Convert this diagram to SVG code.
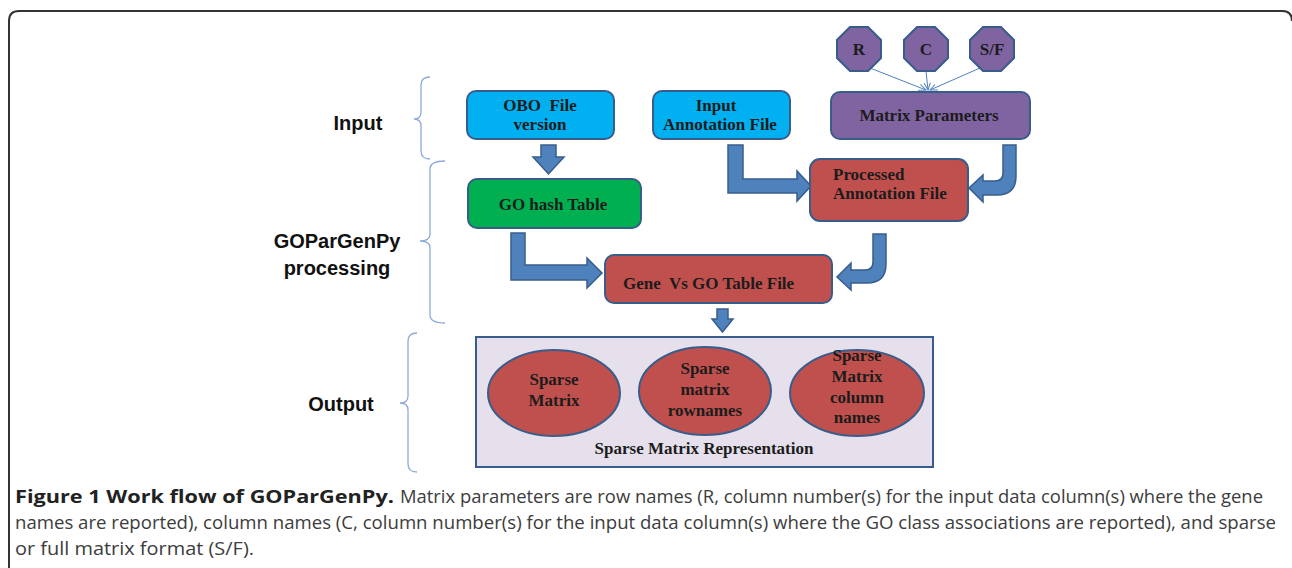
<svg xmlns="http://www.w3.org/2000/svg" width="1292" height="568" viewBox="0 0 1292 568">
<style>
.lbl{font-family:"Liberation Sans",Arial,sans-serif;font-weight:bold;font-size:20px;fill:#111}
.nt{font-family:"Liberation Serif","Times New Roman",serif;font-weight:bold;font-size:17px;fill:#1c1c1c}
.box{stroke:#385D8A;stroke-width:2}
.blue{fill:#00B0F0}
.green{fill:#00B050}
.purple{fill:#8064A2}
.red{fill:#C0504D}
.arr{fill:#4F81BD;stroke:#385D8A;stroke-width:1.5;stroke-linejoin:miter}
.brace{fill:none;stroke:#8EAADB;stroke-width:1.3}
.thin{stroke:#4F81BD;stroke-width:1;fill:none}
.cap{font-family:"Open Sans","Liberation Sans",sans-serif;font-size:18px}
</style>
<defs>
<marker id="ah" viewBox="0 0 10 10" refX="9" refY="5" markerWidth="8" markerHeight="8" orient="auto" markerUnits="userSpaceOnUse">
<path d="M0,1 L9,5 L0,9" fill="none" stroke="#4F81BD" stroke-width="1.2"/>
</marker>
</defs>
<rect width="1292" height="568" fill="#fff"/>
<path d="M9,568 V21 Q9,11 19,11 H1282 Q1292,11 1292,21" fill="none" stroke="#333" stroke-width="2"/>

<g id="braces">
<path class="brace" d="M430,77 Q421,77 421,85 V112 Q421,119 414,119 Q421,119 421,126 V151 Q421,159 430,159"/>
<path class="brace" d="M445,161 Q430,161 430,169 V234 Q430,241 420,241 Q430,241 430,248 V315 Q430,323 445,323"/>
<path class="brace" d="M417,333 Q408,333 408,341 V396 Q408,403 400,403 Q408,403 408,410 V464 Q408,472 417,472"/>
</g>

<g id="stage-labels">
<text class="lbl" x="358" y="130" text-anchor="middle">Input</text>
<text class="lbl" x="337" y="248" text-anchor="middle">GOParGenPy</text>
<text class="lbl" x="337" y="275" text-anchor="middle">processing</text>
<text class="lbl" x="341" y="411" text-anchor="middle">Output</text>
</g>

<g id="connectors">
<line class="thin" x1="870" y1="68" x2="926" y2="90" marker-end="url(#ah)"/>
<line class="thin" x1="926" y1="71" x2="928" y2="90" marker-end="url(#ah)"/>
<line class="thin" x1="980" y1="68" x2="930" y2="90" marker-end="url(#ah)"/>
<path class="arr" d="M541,145 H556 V157 H564 L548.5,174 L533,157 H541 Z"/>
<path class="arr" d="M728,145 H743 V179 H797 V171 L811,186 L797,201 V193 H728 Z"/>
<path class="arr" d="M1016,145 V176 Q1016,195 997,195 H983 V202 L969,188 L983,175 V181 H995 Q1003,181 1003,173 V145 Z"/>
<path class="arr" d="M886,234 V264 Q886,283 867,283 H851 V290 L837,277 L851,263 V270 H865 Q873,270 873,262 V234 Z"/>
<path class="arr" d="M511,233 H525 V265 H587 V258 L602,273 L587,288 V280 H511 Z"/>
<path class="arr" d="M717,309 H728 V319 H733 L722.5,332 L712,319 H717 Z"/>
</g>

<g id="node-obo">
<rect class="box blue" x="467" y="91" width="147" height="48" rx="9"/>
<text class="nt" x="540" y="111" text-anchor="middle" xml:space="preserve">OBO  File</text>
<text class="nt" x="540" y="130" text-anchor="middle">version</text>
</g>
<g id="node-input-annotation">
<rect class="box blue" x="653" y="91" width="137" height="48" rx="9"/>
<text class="nt" x="716" y="111" text-anchor="middle">Input</text>
<text class="nt" x="720" y="130" text-anchor="middle">Annotation File</text>
</g>
<g id="node-matrix-parameters">
<rect class="box purple" x="831" y="92" width="199" height="47" rx="9"/>
<text class="nt" x="929" y="121" text-anchor="middle">Matrix Parameters</text>
</g>
<g id="node-R">
<polygon class="box purple" points="850,27 868,27 881,40 881,58 868,71 850,71 837,58 837,40"/>
<text class="nt" x="859" y="55" text-anchor="middle">R</text>
</g>
<g id="node-C">
<polygon class="box purple" points="917,27 935,27 948,40 948,58 935,71 917,71 904,58 904,40"/>
<text class="nt" x="926" y="55" text-anchor="middle">C</text>
</g>
<g id="node-SF">
<polygon class="box purple" points="983,27 1001,27 1014,40 1014,58 1001,71 983,71 970,58 970,40"/>
<text class="nt" x="992" y="55" text-anchor="middle">S/F</text>
</g>
<g id="node-go-hash">
<rect class="box green" x="468" y="179" width="173" height="49" rx="9"/>
<text class="nt" x="553" y="210" text-anchor="middle">GO hash Table</text>
</g>
<g id="node-processed">
<rect class="box red" x="810" y="159" width="158" height="62" rx="10"/>
<text class="nt" x="833" y="180">Processed</text>
<text class="nt" x="833" y="199">Annotation File</text>
</g>
<g id="node-gene-vs-go">
<rect class="box red" x="605" y="255" width="227" height="48" rx="9"/>
<text class="nt" x="623" y="289" xml:space="preserve">Gene  Vs GO Table File</text>
</g>
<g id="node-output">
<rect x="476" y="337" width="457" height="130" fill="#E6E0EC" stroke="#385D8A" stroke-width="2"/>
<text class="nt" x="704" y="454" text-anchor="middle">Sparse Matrix Representation</text>
</g>
<g id="node-sparse-matrix">
<ellipse class="box red" cx="554" cy="393" rx="66" ry="43"/>
<text class="nt" x="554" y="385" text-anchor="middle">Sparse</text>
<text class="nt" x="554" y="406" text-anchor="middle">Matrix</text>
</g>
<g id="node-rownames">
<ellipse class="box red" cx="705" cy="391" rx="66" ry="44"/>
<text class="nt" x="705" y="374" text-anchor="middle">Sparse</text>
<text class="nt" x="705" y="395" text-anchor="middle">matrix</text>
<text class="nt" x="705" y="416" text-anchor="middle">rownames</text>
</g>
<g id="node-colnames">
<ellipse class="box red" cx="857" cy="393" rx="67" ry="43"/>
<text class="nt" x="857" y="361" text-anchor="middle">Sparse</text>
<text class="nt" x="857" y="382" text-anchor="middle">Matrix</text>
<text class="nt" x="857" y="403" text-anchor="middle">column</text>
<text class="nt" x="857" y="423" text-anchor="middle">names</text>
</g>

<g id="caption">
<text class="cap" x="15" y="503" font-weight="bold" fill="#222" textLength="379" lengthAdjust="spacingAndGlyphs">Figure 1 Work flow of GOParGenPy.</text>
<text class="cap" x="400" y="503" fill="#3c3c3c" textLength="863" lengthAdjust="spacingAndGlyphs">Matrix parameters are row names (R, column number(s) for the input data column(s) where the gene</text>
<text class="cap" x="15" y="529" fill="#3c3c3c" textLength="1261" lengthAdjust="spacingAndGlyphs">names are reported), column names (C, column number(s) for the input data column(s) where the GO class associations are reported), and sparse</text>
<text class="cap" x="15" y="555" fill="#3c3c3c" textLength="239" lengthAdjust="spacingAndGlyphs">or full matrix format (S/F).</text>
</g>
</svg>
